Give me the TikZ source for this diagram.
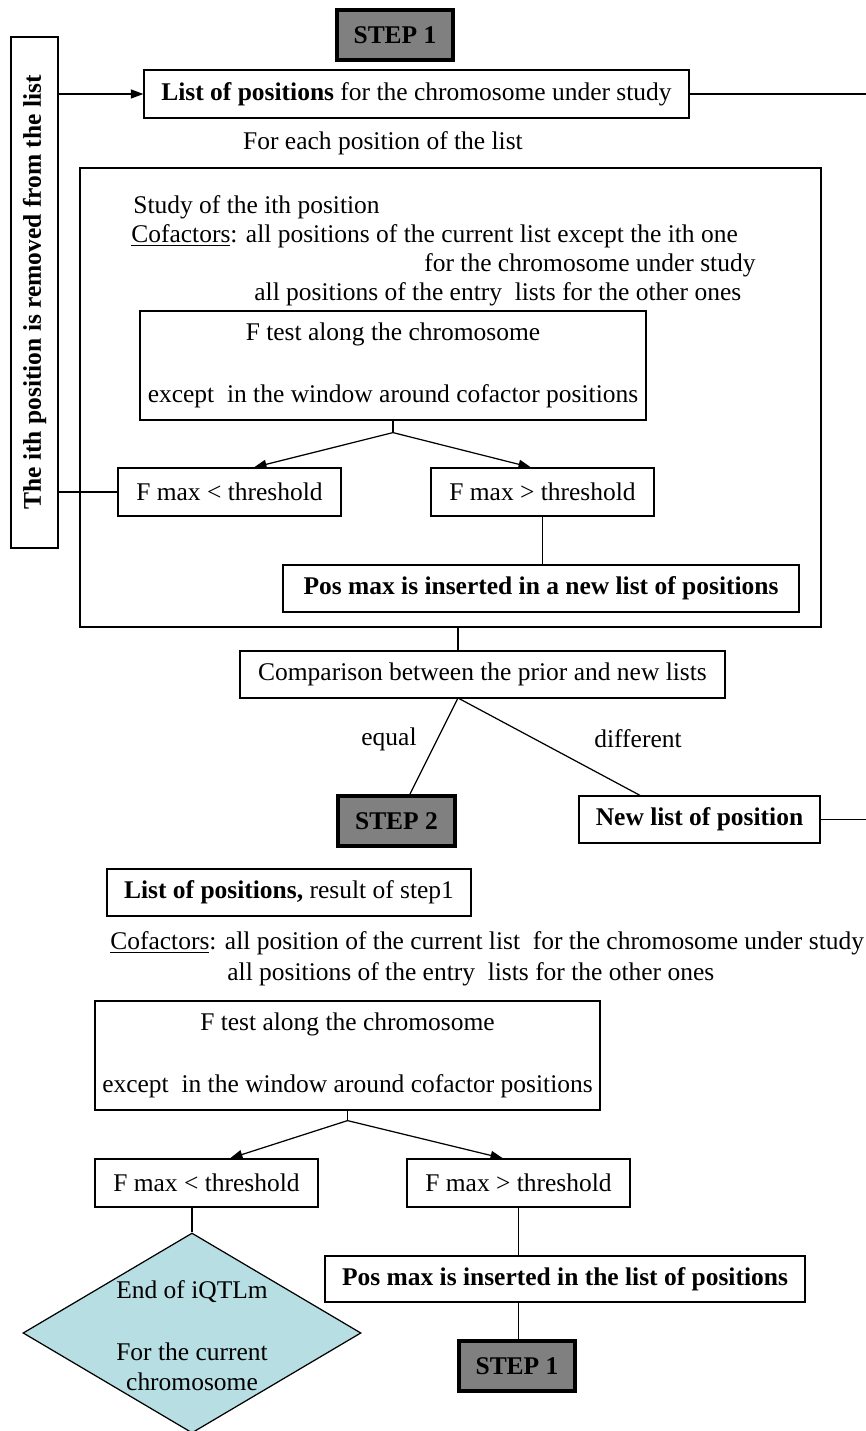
\documentclass[tikz,border=0pt]{standalone}
\usepackage{fontspec}
\setmainfont{Liberation Serif}
\definecolor{stepgray}{RGB}{128, 128, 128}
\definecolor{endcyan}{RGB}{183, 222, 227}
\usepackage{tikz}
\usetikzlibrary{shapes.geometric, arrows.meta, positioning, calc}
\newcommand{\flowfont}{\fontsize{14.5}{17.5}\selectfont}
\tikzset{
    flowbox/.style={draw, rectangle, line width=0.7pt, inner sep=0pt, font=\flowfont, align=center},
    stepbox/.style={flowbox, line width=2.3pt, fill=stepgray, font=\flowfont\bfseries, minimum width=2.32cm, minimum height=1.0cm},
    testbox/.style={flowbox, minimum width=10.12cm, minimum height=2.18cm},
    threshbox/.style={flowbox, minimum width=4.46cm, minimum height=0.96cm},
    boldbox/.style={flowbox, font=\flowfont\bfseries, minimum height=0.94cm},
    endshape/.style={draw, diamond, fill=endcyan, aspect=1.69, inner sep=0pt, minimum width=6.76cm, minimum height=4cm, line width=0.7pt},
    plaintext/.style={inner sep=0pt, font=\flowfont},
    link/.style={line width=0.7pt},
    flowarrow/.style={link, -{Triangle[length=0.25cm, width=0.18cm]}},
}

\begin{document}
\begin{tikzpicture}
    \useasboundingbox (0,0) rectangle (17.32,28.62);

    % === Step 1 ===
    \node[stepbox] (stepA) at (7.90, 27.92) {STEP 1};
    \node[flowbox, rotate=90, font=\flowfont\bfseries, minimum width=10.22cm, minimum height=0.94cm] (removed) at (0.69, 22.77) {The ith position is removed from the list};
    \node[flowbox, minimum width=10.9cm, minimum height=0.96cm] (list) at (8.33, 26.74) {\textbf{List of positions} for the chromosome under study};
    \coordinate (edge) at (17.32, 26.74);
    \draw[flowarrow] (removed.south |- list.west) -- (list.west);
    \draw[link] (list.east) -- (edge);
    \node[plaintext] (foreach) at (7.66, 25.76) {For each position of the list};

    % loop over the positions
    \node[flowbox, line width=1.2pt, minimum width=14.82cm, minimum height=9.18cm] (loopbox) at (9.01, 20.67) {};
    \node[plaintext, anchor=west] (study) at (2.66, 24.48) {Study of the ith position};
    \node[plaintext, anchor=west] (cofA) at (2.62, 23.90) {\underline{Cofactors}: all positions of the current list except the ith one};
    \node[plaintext, anchor=west] (cofB) at (8.48, 23.32) {for the chromosome under study};
    \node[plaintext, anchor=west] (cofC) at (5.08, 22.74) {all positions of the entry\ \ lists for the other ones};
    \node[testbox] (ftestA) at (7.86, 21.31) {F test along the chromosome\\[17.5pt]except\ \ in the window around cofactor positions};
    \node[threshbox] (fminA) at (4.59, 18.78) {F max < threshold};
    \node[threshbox] (fmaxA) at (10.85, 18.78) {F max > threshold};
    \node[boldbox, minimum width=10.32cm] (posA) at (10.82, 16.85) {Pos max is inserted in a new list of positions};
    \coordinate (forkA) at ($(ftestA.south)+(0,-0.24)$);
    \draw[link] (ftestA.south) -- (forkA);
    \draw[flowarrow] (forkA) -- ($(fminA.north)+(0.49,0)$);
    \draw[flowarrow] (forkA) -- ($(fmaxA.north)+(-0.23,0)$);
    \draw[link] (fmaxA.south) -- (posA.north -| fmaxA.south);
    \draw[link] (removed.south |- fminA.west) -- (fminA.west);

    % comparison of the lists
    \node[flowbox, minimum width=9.7cm, minimum height=0.94cm] (cmp) at (9.65, 15.13) {Comparison between the prior and new lists};
    \coordinate (split) at (9.16, 14.66);
    \draw[link] (loopbox.south -| split) -- (cmp.north -| split);
    \node[stepbox, minimum width=2.34cm] (stepB) at (7.93, 12.20) {STEP 2};
    \node[boldbox, minimum width=4.82cm] (newlist) at (13.99, 12.23) {New list of position};
    \draw[link] (split) -- ($(stepB.north)+(0.27,0)$);
    \draw[link] (split) -- ($(newlist.north)+(-1.19,0)$);
    \draw[link] (newlist.east) -- (newlist.east -| edge);
    \node[plaintext] (equal) at (7.78, 13.84) {equal};
    \node[plaintext] (diff) at (12.76, 13.84) {different};

    % === Step 2 ===
    \node[flowbox, minimum width=7.28cm, minimum height=0.94cm] (listB) at (5.78, 10.77) {\textbf{List of positions,} result of step1};
    \node[plaintext, anchor=west] (cofD) at (2.20, 9.76) {\underline{Cofactors}: all position of the current list\ \ for the chromosome under study};
    \node[plaintext, anchor=west] (cofE) at (4.54, 9.14) {all positions of the entry\ \ lists for the other ones};
    \node[testbox, minimum width=10.1cm] (ftestB) at (6.95, 7.51) {F test along the chromosome\\[17.5pt]except\ \ in the window around cofactor positions};
    \node[threshbox] (fminB) at (4.13, 4.96) {F max < threshold};
    \node[threshbox] (fmaxB) at (10.37, 4.96) {F max > threshold};
    \coordinate (forkB) at ($(ftestB.south)+(0,-0.2)$);
    \draw[link] (ftestB.south) -- (forkB);
    \draw[flowarrow] (forkB) -- ($(fminB.north)+(0.47,0)$);
    \draw[flowarrow] (forkB) -- ($(fmaxB.north)+(-0.31,0)$);
    \node[boldbox, minimum width=9.6cm, minimum height=0.92cm] (posB) at (11.30, 3.04) {Pos max is inserted in the list of positions};
    \node[stepbox] (stepC) at (10.34, 1.30) {STEP 1};
    \draw[link] (fmaxB.south) -- (posB.north -| fmaxB.south);
    \draw[link] (posB.south -| fmaxB.south) -- (stepC.north -| fmaxB.south);
    \node[endshape] (endrun) at (3.84, 1.96) {};
    \node[plaintext, align=center] (endtext) at (3.84, 1.90) {End of iQTLm\\[17.5pt]For the current\\chromosome};
    \draw[link] (endrun.north |- fminB.south) -- (endrun.north);
\end{tikzpicture}
\end{document}
